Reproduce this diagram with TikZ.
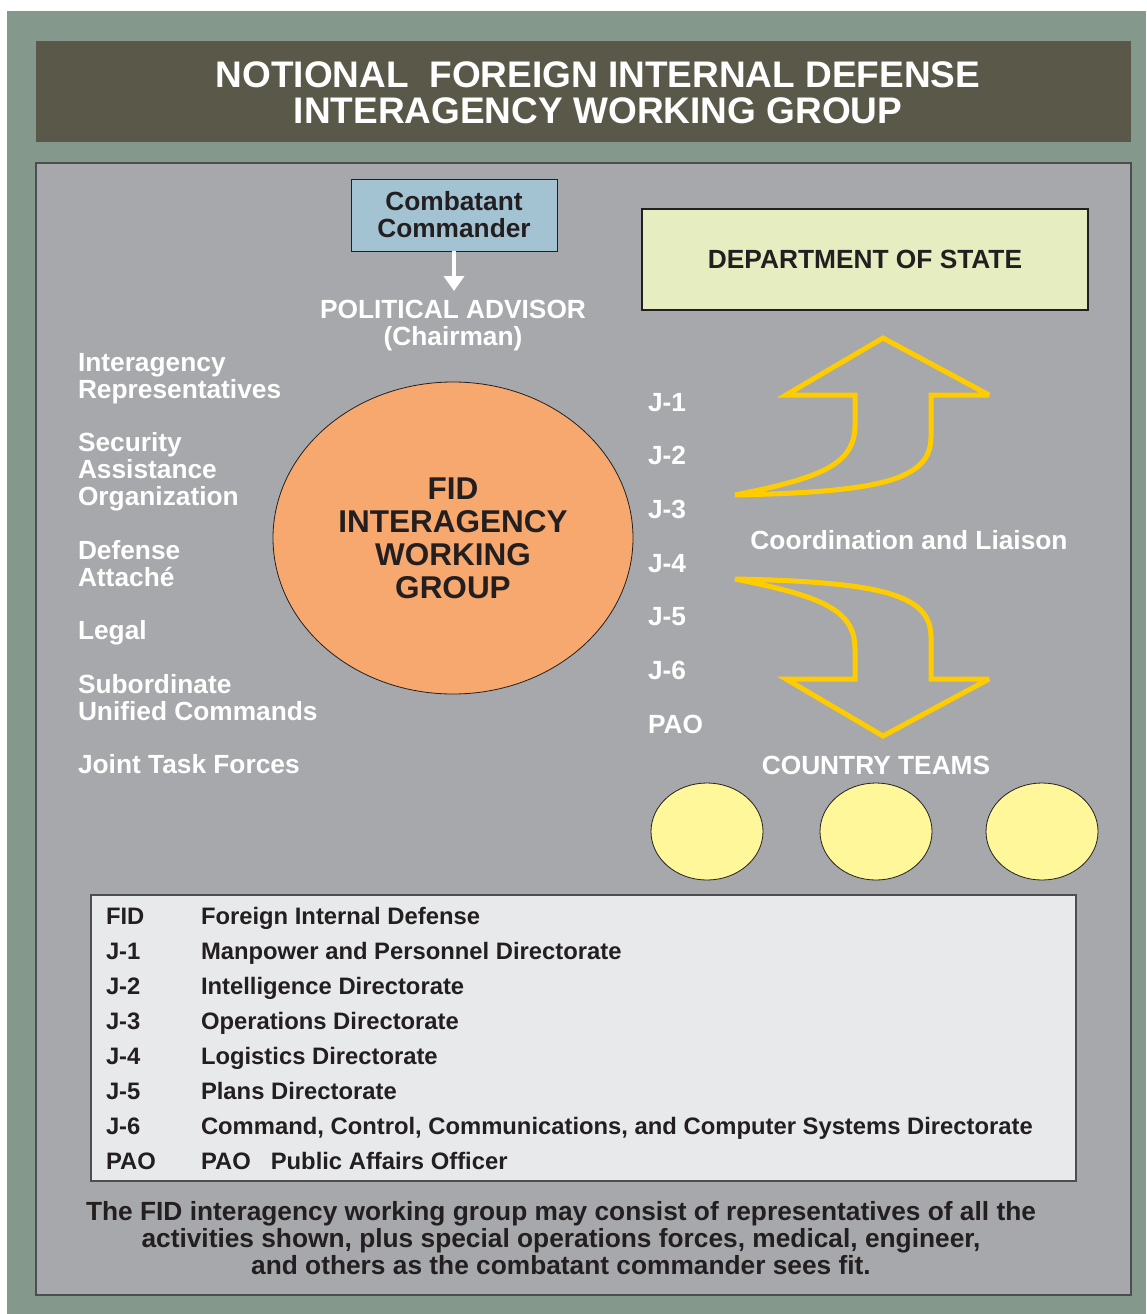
\documentclass[tikz,border=0pt]{standalone}
\usepackage{fontspec}
\setmainfont{Liberation Sans}
\usetikzlibrary{shapes.geometric,arrows.meta}
\definecolor{outergreen}{HTML}{84998B}
\definecolor{titlebg}{HTML}{5A5849}
\definecolor{panelgray}{HTML}{A7A8AB}
\definecolor{panelline}{HTML}{4D4D4F}
\definecolor{ccblue}{HTML}{A3C3D3}
\definecolor{dosgreen}{HTML}{E5EDC1}
\definecolor{fidorange}{HTML}{F7A86E}
\definecolor{teamyellow}{HTML}{FFF799}
\definecolor{arrowyellow}{HTML}{FFCC00}
\definecolor{legendbg}{HTML}{E8E9EB}
\definecolor{darktext}{HTML}{231F20}
\begin{document}
\begin{tikzpicture}[x=1pt,y=-1pt,
  every node/.style={inner sep=0pt,outer sep=0pt},
  bigfont/.style={font={\fontsize{26.3}{27}\selectfont\bfseries}},
  wlabel/.style={bigfont,text=white,align=left,anchor=base west},
  wcenter/.style={bigfont,text=white,align=center,anchor=base},
  legabbr/.style={font={\fontsize{23.8}{35}\selectfont\bfseries},text=darktext,anchor=base west},
  legdesc/.style={legabbr},
  boxnode/.style={draw=darktext,line width=1pt,bigfont,text=darktext,align=center},
  teamnode/.style={ellipse,draw=darktext,line width=0.8pt,fill=teamyellow,minimum width=112,minimum height=97},
  whitearrow/.style={draw=white,line width=4,-{Triangle[length=15,width=20]}},
  arrowline/.style={draw=arrowyellow,line width=5,line join=miter,miter limit=4},
  liaison/.pic={
    \draw[arrowline] (883,338) -- (989,395) -- (931,395) -- (931,437)
      .. controls (931,480) and (880,492) .. (735,495)
      .. controls (820,478) and (855,465) .. (855,425)
      -- (855,395) -- (786,395) -- cycle;
  }
]
\useasboundingbox (0,0) rectangle (1146,1314);
\fill[white] (0,0) rectangle (1146,1314);
\fill[outergreen] (7,11) rectangle (1146,1314);
\fill[titlebg] (36,41) rectangle (1131,142);
\draw[fill=panelgray,draw=panelline,line width=1.5pt] (36,163) rectangle (1131,1295);

% title
\node[font={\fontsize{37}{36}\selectfont\bfseries},text=white,align=center,anchor=base] (title) at (598,123)
  {NOTIONAL\ \ FOREIGN INTERNAL DEFENSE\\INTERAGENCY WORKING GROUP};

% combatant commander
\node[boxnode,fill=ccblue,minimum width=206,minimum height=72] (cc) at (454,215) {Combatant\\Commander};
\coordinate (paArrowEnd) at (454,291);
\draw[whitearrow] (cc.south) -- (paArrowEnd);
\node[wcenter] (pa) at (453,345.5) {POLITICAL ADVISOR\\(Chairman)};

% department of state
\node[boxnode,fill=dosgreen,minimum width=446,minimum height=101,line width=1.2pt] (dos) at (865,259.5) {DEPARTMENT OF STATE};

% FID ellipse
\node[ellipse,draw=darktext,line width=0.8pt,fill=fidorange,minimum width=360,minimum height=312,
  font={\fontsize{31.5}{33}\selectfont\bfseries},text=darktext,align=center] (fid) at (453,538)
  {FID\\INTERAGENCY\\WORKING\\GROUP};

% left labels
\node[wlabel] (ir) at (78,398) {Interagency\\Representatives};
\node[wlabel] (sao) at (78,505.5) {Security\\Assistance\\Organization};
\node[wlabel] (da) at (78,586.5) {Defense\\Attach\'e};
\node[wlabel] (legal) at (78,639.5) {Legal};
\node[wlabel] (suc) at (78,720.5) {Subordinate\\Unified Commands};
\node[wlabel] (jtf) at (78,773.5) {Joint Task Forces};

% J labels
\node[wlabel] (j1) at (648,411) {J-1};
\node[wlabel] (j2) at (648,464.5) {J-2};
\node[wlabel] (j3) at (648,518) {J-3};
\node[wlabel] (j4) at (648,572) {J-4};
\node[wlabel] (j5) at (648,625.5) {J-5};
\node[wlabel] (j6) at (648,679) {J-6};
\node[wlabel] (pao) at (648,733) {PAO};

% arrows
\pic at (0,0) {liaison};
\pic[yscale=-1] at (0,1074) {liaison};
\node[wcenter] (coord) at (909,549) {Coordination and Liaison};
\node[wcenter] (ct) at (876,774) {COUNTRY TEAMS};

% country teams
\node[teamnode] (t1) at (707,831.5) {};
\node[teamnode] (t2) at (876,831.5) {};
\node[teamnode] (t3) at (1042,831.5) {};

% legend
\node[draw=panelline,line width=1.2pt,fill=legendbg,minimum width=985,minimum height=286] (legend) at (583.5,1038) {};
\node[legabbr] (a1) at (106,924) {FID};
\node[legdesc] (d1) at (201,924) {Foreign Internal Defense};
\node[legabbr] (a2) at (106,959) {J-1};
\node[legdesc] (d2) at (201,959) {Manpower and Personnel Directorate};
\node[legabbr] (a3) at (106,994) {J-2};
\node[legdesc] (d3) at (201,994) {Intelligence Directorate};
\node[legabbr] (a4) at (106,1029) {J-3};
\node[legdesc] (d4) at (201,1029) {Operations Directorate};
\node[legabbr] (a5) at (106,1064) {J-4};
\node[legdesc] (d5) at (201,1064) {Logistics Directorate};
\node[legabbr] (a6) at (106,1099) {J-5};
\node[legdesc] (d6) at (201,1099) {Plans Directorate};
\node[legabbr] (a7) at (106,1134) {J-6};
\node[legdesc] (d7) at (201,1134) {Command, Control, Communications, and Computer Systems Directorate};
\node[legabbr] (a8) at (106,1169) {PAO};
\node[legdesc] (d8) at (201,1169) {PAO\hspace{20pt}Public Affairs Officer};

% bottom note
\node[bigfont,text=darktext,align=center,anchor=base] (note) at (561,1274)
  {The FID interagency working group may consist of representatives of all the\\
   activities shown, plus special operations forces, medical, engineer,\\
   and others as the combatant commander sees fit.};
\end{tikzpicture}
\end{document}
